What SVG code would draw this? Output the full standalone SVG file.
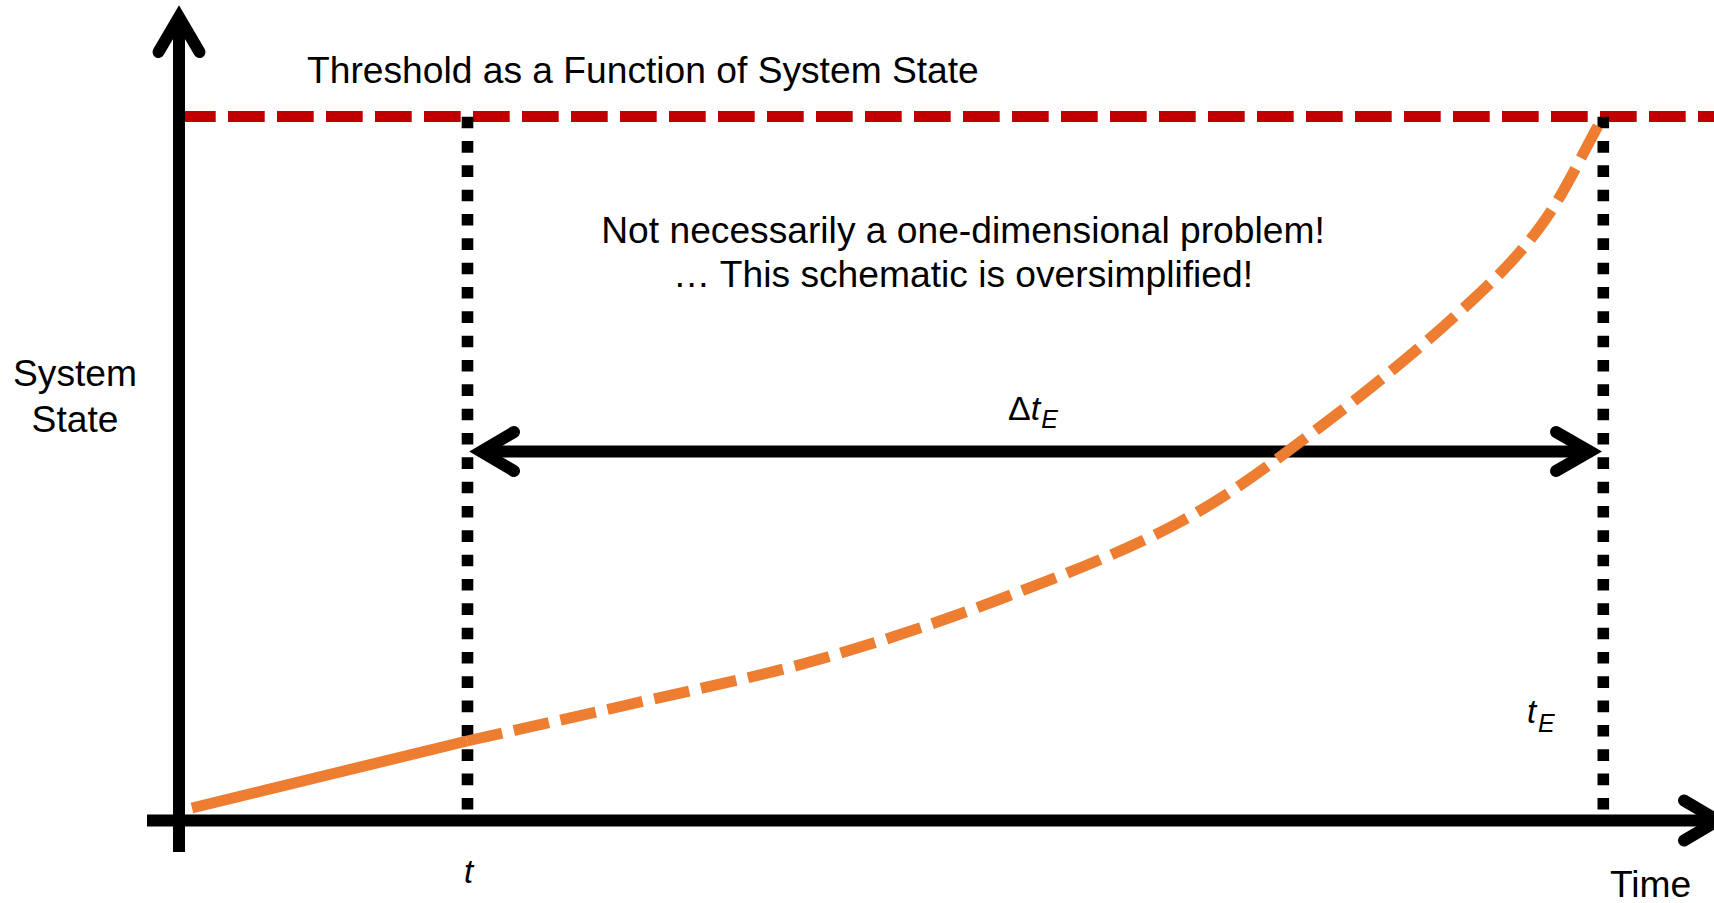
<svg xmlns="http://www.w3.org/2000/svg" width="1714" height="903" viewBox="0 0 1714 903">
<style>
text{font-family:"Liberation Sans",Arial,sans-serif;fill:#000}
.lbl{font-size:37.2px}
.math{font-size:33px;font-style:italic}
.sub{font-size:25px;font-style:italic}
.ln{stroke:#000;stroke-width:12;fill:none}
.head{stroke:#000;stroke-width:12;fill:none;stroke-linecap:round;stroke-linejoin:miter}
.dot{stroke:#000;stroke-width:11.6;stroke-dasharray:11.6 12.73;fill:none}
.thr{stroke:#C00000;stroke-width:11;stroke-dasharray:36.7 12.3;fill:none}
.cur{stroke:#ED7D31;stroke-width:11;fill:none}
.dash{stroke-dasharray:36 12}
</style>
<rect width="1714" height="903" fill="#fff"/>
<g id="threshold">
<line class="thr" x1="179" y1="116.5" x2="1714" y2="116.5"/>
</g>
<g id="markers">
<line class="dot" x1="467.5" y1="116.7" x2="467.5" y2="810"/>
<line class="dot" x1="1603.3" y1="116.7" x2="1603.3" y2="810"/>
</g>
<g id="axes">
<line class="ln" x1="179" y1="17" x2="179" y2="852"/>
<polyline class="head" points="158.5,52 179,17 199.5,52"/>
<line class="ln" x1="147" y1="820.5" x2="1718" y2="820.5"/>
<polyline class="head" points="1684,800.5 1718,820.5 1684,840.5"/>
</g>
<g id="connectors">
<line class="ln" x1="481" y1="451.5" x2="1590" y2="451.5"/>
<polyline class="head" points="514,432 481,451.5 514,471"/>
<polyline class="head" points="1556,432 1590,451.5 1556,471"/>
</g>
<g id="curve">
<path class="cur" d="M192,808 L467,741"/>
<path class="cur dash" d="M467,741 C520.3,729 568.7,718.5 627,705 C685.3,691.5 754.3,677.8 817,660 C879.7,642.2 942.5,621 1003,598 C1063.5,575 1127.2,550.5 1180,522 C1232.8,493.5 1274.3,461.2 1320,427 C1365.7,392.8 1417.3,350.3 1454,317 C1490.7,283.7 1515.2,260.3 1540,227 C1564.8,193.7 1582,153.7 1603,117"/>
</g>
<g id="labels">
<text class="lbl" x="307" y="83">Threshold as a Function of System State</text>
<text class="lbl" x="963" y="243" text-anchor="middle">Not necessarily a one-dimensional problem!</text>
<text class="lbl" x="963" y="287" text-anchor="middle">… This schematic is oversimplified!</text>
<text class="lbl" x="75" y="386" text-anchor="middle">System</text>
<text class="lbl" x="75" y="432" text-anchor="middle">State</text>
<text class="lbl" x="1610" y="897">Time</text>
<text x="1008" y="420" font-size="34"><tspan>Δ</tspan><tspan font-style="italic">t</tspan><tspan class="sub" dx="1" dy="8">E</tspan></text>
<text class="math" x="464" y="883">t</text>
<text class="math" x="1527" y="723">t</text>
<text class="sub" x="1538" y="732">E</text>
</g>
</svg>
